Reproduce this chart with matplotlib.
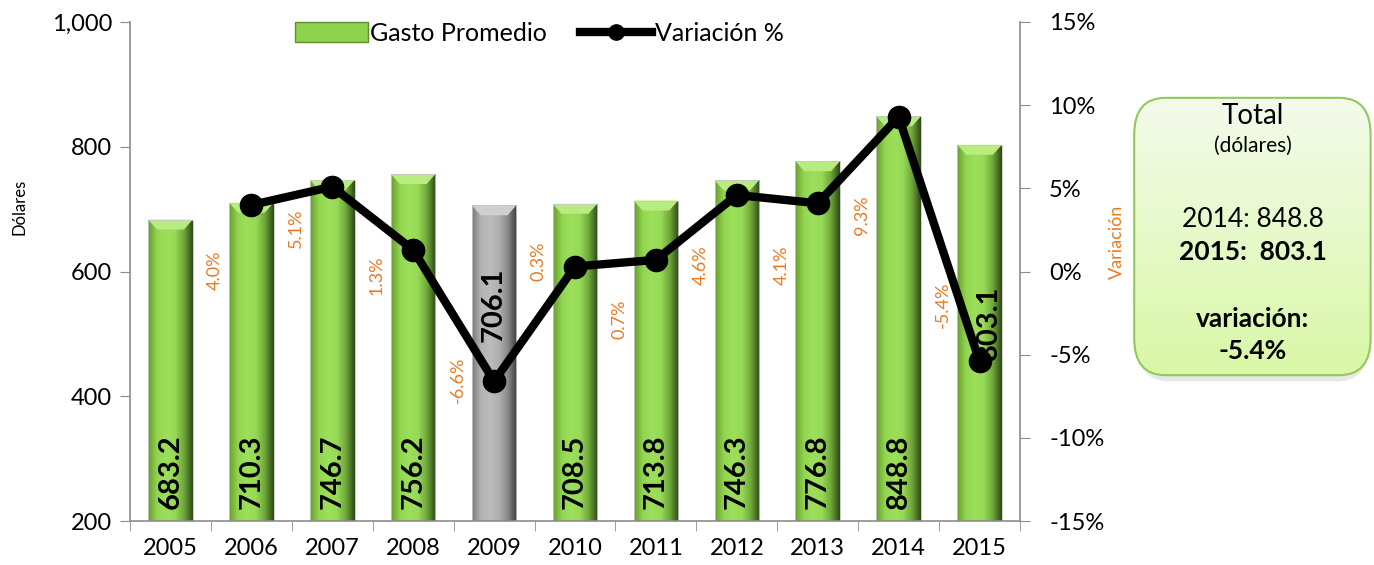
import numpy as np
import matplotlib
matplotlib.use("Agg")
import matplotlib.pyplot as plt
from matplotlib.patches import FancyBboxPatch, Rectangle, Polygon
from matplotlib.colors import LinearSegmentedColormap
from matplotlib.lines import Line2D
from matplotlib.legend_handler import HandlerPatch

plt.rcParams['font.family'] = ['Lato', 'DejaVu Sans']

# data
years = ['2005', '2006', '2007', '2008', '2009', '2010', '2011', '2012', '2013', '2014', '2015']
gasto = [683.2, 710.3, 746.7, 756.2, 706.1, 708.5, 713.8, 746.3, 776.8, 848.8, 803.1]
variacion = [None, 4.0, 5.1, 1.3, -6.6, 0.3, 0.7, 4.6, 4.1, 9.3, -5.4]

# where the orange labels sit (in % units), like in the excel original
var_label_y = [None, 0.1, 2.6, -0.2, -6.5, 0.6, -2.9, 0.4, 0.4, 3.4, -2.0]
# bar labels that are not at the bottom: index -> (x shift, y in dollars)
bar_label_pos = {4: (0.0, 546), 10: (0.12, 518)}

orange = '#ea7a22'
grey = '#8c8c8c'

fig = plt.figure(figsize=(13.74, 5.65), dpi=100)
ax = fig.add_axes([130/1374, 44/565, 890/1374, 499/565])
ax2 = ax.twinx()

x = np.arange(len(years))
width = 0.55

green_cm = LinearSegmentedColormap.from_list('g', ['#6a9e30', '#92d650', '#9ddf5b', '#97da56', '#6fa83a', '#2f4a16'])
grey_cm = LinearSegmentedColormap.from_list('k', ['#7a7a7a', '#b4b4b4', '#bcbcbc', '#b0b0b0', '#8a8a8a', '#3e3e3e'])
grad = np.linspace(0, 1, 100).reshape(1, -1)

bars = ax.bar(x, np.array(gasto) - 200, width, bottom=200, color='#9ddf5b', zorder=2)
for i, b in enumerate(bars):
    cm = grey_cm if i == 4 else green_cm
    x0, y0 = b.get_x(), b.get_y()
    w, h = b.get_width(), b.get_height()
    im = ax.imshow(grad, cmap=cm, aspect='auto', extent=[x0, x0 + w, y0, y0 + h], zorder=2.1)
    im.set_clip_path(b)
    # bevel on top
    capc = '#cfcfcf' if i == 4 else '#b8ec7e'
    cap = 16
    ax.add_patch(Polygon([[x0, y0 + h], [x0 + w, y0 + h], [x0 + w * 0.8, y0 + h - cap], [x0 + w * 0.2, y0 + h - cap]],
                         closed=True, facecolor=capc, edgecolor='none', zorder=2.2))
    ax.add_patch(Rectangle((x0, y0), w, h, fill=False, edgecolor='#c8c8c8', lw=0.6, zorder=2.3))

ax.set_xlim(-0.5, len(years) - 0.5)
ax.set_ylim(200, 1000)
ax.set_yticks([200, 400, 600, 800, 1000])
ax.set_yticklabels(['200', '400', '600', '800', '1,000'], fontsize=17)
ax.set_xticks(x)
ax.set_xticklabels(years, fontsize=17)
ax.set_xticks(np.arange(-0.5, len(years)), minor=True)
ax.tick_params(axis='x', which='major', length=0, pad=12)
ax.tick_params(axis='x', which='minor', length=7, color=grey, direction='out')
ax.tick_params(axis='y', length=7, color=grey, direction='out', pad=6)
ax.set_ylabel('Dólares', fontsize=12)
ax.yaxis.set_label_coords(-0.115, 0.63)
for s in ['top', 'right']:
    ax.spines[s].set_visible(False)
for s in ['left', 'bottom']:
    ax.spines[s].set_color(grey)
    ax.spines[s].set_linewidth(1.2)

# variation line
xv = [i for i, v in enumerate(variacion) if v is not None]
yv = [v for v in variacion if v is not None]
ax2.plot(xv, yv, color='black', lw=6, marker='o', markersize=16, zorder=4)
ax2.set_ylim(-15, 15)
ax2.set_yticks([-15, -10, -5, 0, 5, 10, 15])
ax2.set_yticklabels([f'{t}%' for t in [-15, -10, -5, 0, 5, 10, 15]], fontsize=17)
ax2.tick_params(axis='y', length=7, color=grey, direction='out', pad=14)
ax2.set_ylabel('Variación', fontsize=13, color=orange)
ax2.yaxis.set_label_coords(1.1, 0.56)
for s in ['top', 'left', 'bottom']:
    ax2.spines[s].set_visible(False)
ax2.spines['right'].set_color(grey)
ax2.spines['right'].set_linewidth(1.2)

# bar value labels (on ax2 so they sit above the line, but in dollar units)
for i, v in enumerate(gasto):
    if i in bar_label_pos:
        dx, ly = bar_label_pos[i]
        ax2.text(i + dx, ly, f'{v:.1f}', rotation=90, ha='center', va='center',
                 fontsize=21, fontweight='bold', zorder=6, transform=ax.transData)
    else:
        ax2.text(i, 219, f'{v:.1f}', rotation=90, ha='center', va='bottom',
                 fontsize=21, fontweight='bold', zorder=6, transform=ax.transData)

for i, v in enumerate(variacion):
    if v is None:
        continue
    ax2.text(i - 0.45, var_label_y[i], f'{v:.1f}%', rotation=90, ha='center', va='center',
             fontsize=13, color=orange)

# legend
class BarHandler(HandlerPatch):
    def create_artists(self, legend, orig_handle, xdescent, ydescent, width, height, fontsize, trans):
        r = Rectangle((-xdescent, -ydescent - 1), width, height + 2, facecolor='#8fd24e',
                      edgecolor='#5e8f2a', lw=1, transform=trans)
        return [r]

h_bar = Rectangle((0, 0), 1, 1)
h_line = Line2D([], [], color='black', lw=6, marker='o', markersize=11)
ax2.legend([h_bar, h_line], ['Gasto Promedio', 'Variación %'], handler_map={Rectangle: BarHandler()},
           loc='upper center', bbox_to_anchor=(0.46, 1.045), ncol=2, frameon=False, fontsize=18,
           handlelength=2.9, handletextpad=0.1, columnspacing=1.3)

# total box
bax = fig.add_axes([1133/1374, 187/565, 240/1374, 283/565])
bax.set_xlim(0, 1)
bax.set_ylim(0, 1)
bax.axis('off')
shadow = FancyBboxPatch((0.02, -0.012), 0.96, 0.96, boxstyle='round,pad=0,rounding_size=0.13',
                        facecolor='#d8d8d8', edgecolor='none', alpha=0.6, transform=bax.transAxes, clip_on=False)
bax.add_patch(shadow)
box = FancyBboxPatch((0.005, 0.01), 0.985, 0.98, boxstyle='round,pad=0,rounding_size=0.13',
                     facecolor='none', edgecolor='#92c95a', lw=1.5, transform=bax.transAxes, zorder=3)
bax.add_patch(box)
vgrad = np.linspace(0, 1, 100).reshape(-1, 1)
box_cm = LinearSegmentedColormap.from_list('b', ['#f4fbec', '#d9f7a6'])
im = bax.imshow(vgrad, cmap=box_cm, aspect='auto', extent=[0, 1, 0, 1], zorder=2)
im.set_clip_path(box)

bax.text(0.5, 0.925, 'Total', ha='center', va='center', fontsize=20, zorder=4)
bax.text(0.5, 0.82, '(dólares)', ha='center', va='center', fontsize=15, zorder=4)
bax.text(0.5, 0.56, '2014: 848.8', ha='center', va='center', fontsize=19, zorder=4)
bax.text(0.5, 0.445, '2015:  803.1', ha='center', va='center', fontsize=19, fontweight='bold', zorder=4)
bax.text(0.5, 0.21, 'variación:', ha='center', va='center', fontsize=19, fontweight='bold', zorder=4)
bax.text(0.5, 0.095, '-5.4%', ha='center', va='center', fontsize=19, fontweight='bold', zorder=4)

fig.savefig('out.png', dpi=100)
